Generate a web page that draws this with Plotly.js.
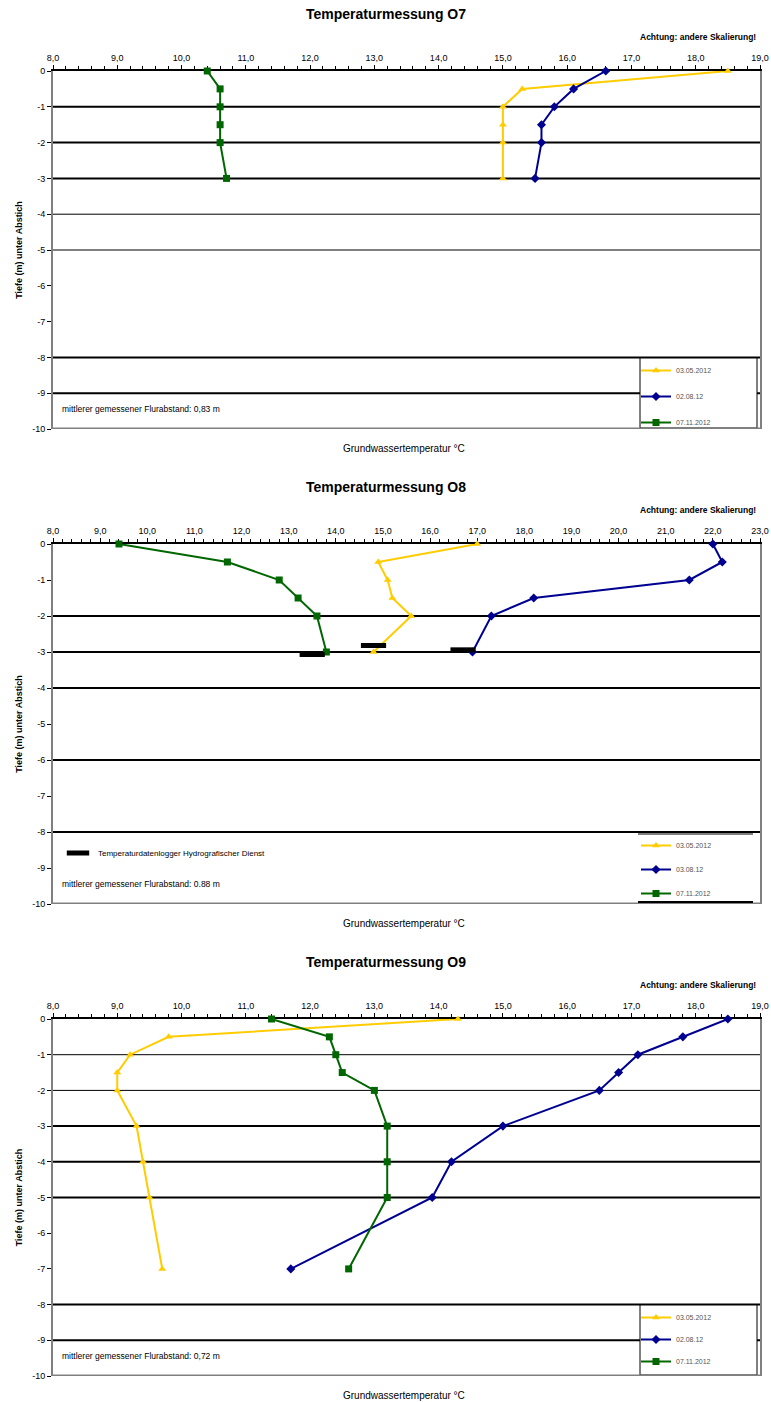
<!DOCTYPE html>
<html><head><meta charset="utf-8">
<script src="https://cdn.plot.ly/plotly-3.0.1.min.js"></script>
<style>html,body{margin:0;padding:0;background:#fff}#chart{width:771px;height:1402px}</style>
</head><body><div id="chart"></div>
<script>
// ---------- DATA ----------
const seriesNames = ["03.05.2012", "02.08.12", "07.11.2012"];
const seriesNamesO8 = ["03.05.2012", "03.08.12", "07.11.2012"];
const loggerName = "Temperaturdatenlogger Hydrografischer Dienst";

const depthO7 = [0, -0.5, -1, -1.5, -2, -3];
const o7_0305 = [18.5, 15.3, 15.0, 15.0, 15.0, 15.0];
const o7_0208 = [16.6, 16.1, 15.8, 15.6, 15.6, 15.5];
const o7_0711 = [10.4, 10.6, 10.6, 10.6, 10.6, 10.7];

const depthO8 = [0, -0.5, -1, -1.5, -2, -3];
const o8_0305 = [17.0, 14.9, 15.1, 15.2, 15.6, 14.8];
const o8_0308 = [22.0, 22.2, 21.5, 18.2, 17.3, 16.9];
const o8_0711 = [9.4, 11.7, 12.8, 13.2, 13.6, 13.8];
const o8_loggerT = [13.5, 14.8, 16.7];
const o8_loggerD = [-3.07, -2.82, -2.94];

const depthO9 = [0, -0.5, -1, -1.5, -2, -3, -4, -5, -7];
const o9_0305 = [14.3, 9.8, 9.2, 9.0, 9.0, 9.3, 9.4, 9.5, 9.7];
const o9_0208 = [18.5, 17.8, 17.1, 16.8, 16.5, 15.0, 14.2, 13.9, 11.7];
const o9_0711 = [11.4, 12.3, 12.4, 12.5, 13.0, 13.2, 13.2, 13.2, 12.6];

const titles = ["Temperaturmessung O7", "Temperaturmessung O8", "Temperaturmessung O9"];
const flurText = ["mittlerer gemessener Flurabstand: 0,83 m", "mittlerer gemessener Flurabstand: 0.88 m", "mittlerer gemessener Flurabstand: 0,72 m"];
const noteText = "Achtung: andere Skalierung!";
const xTitle = "Grundwassertemperatur °C";
const yTitle = "Tiefe (m) unter Abstich";
const xRanges = [[8, 19], [8, 23], [8, 19]];
const yTickVals = [0, -1, -2, -3, -4, -5, -6, -7, -8, -9, -10];
const yTickText = ["0", "-1", "-2", "-3", "-4", "-5", "-6", "-7", "-8", "-9", "-10"];
// horizontal depth lines drawn in the original (thick / thin)
const gridThick = [[-1, -2, -3, -8, -9], [-2, -3, -4, -6, -8], [-3, -4, -5, -8, -9]];
const gridThin = [[-4, -5], [], [-1, -2]];

// ---------- LAYOUT ----------
const W = 771, H = 1402;
const FONT = "Liberation Sans, Arial, sans-serif";
const px = v => v / W;
const py = v => 1 - v / H;
const panels = [{top: 71, bot: 429, gap: 7, sides: true}, {top: 544, bot: 904, gap: 5, sides: false}, {top: 1019, bot: 1376, gap: 3, sides: true}];
const xL = 53, xR = 760;
const COL = {y: "#FFCC00", b: "#000090", g: "#006600"};

const traces = [];
const layout = {
  width: W, height: H, margin: {l: 0, r: 0, t: 0, b: 0},
  paper_bgcolor: "#fff", plot_bgcolor: "#fff",
  separators: ", ", font: {family: FONT, color: "#000"},
  showlegend: true, annotations: [], shapes: []
};

function addSeries(i, x, y, name, color, symbol, legendId) {
  const sfx = i === 0 ? "" : String(i + 1);
  traces.push({
    type: "scatter", mode: "lines+markers", x: x, y: y, name: name, cliponaxis: false,
    xaxis: "x" + sfx, yaxis: "y" + sfx, legend: legendId, legendgroup: legendId + name,
    line: {color: color, width: 2},
    marker: {color: color, symbol: symbol, size: 7, line: {width: 0}}
  });
}

const sets = [
  {d: depthO7, s: [o7_0305, o7_0208, o7_0711], n: seriesNames},
  {d: depthO8, s: [o8_0305, o8_0308, o8_0711], n: seriesNamesO8},
  {d: depthO9, s: [o9_0305, o9_0208, o9_0711], n: seriesNames}
];

panels.forEach((p, i) => {
  const sfx = i === 0 ? "" : String(i + 1);
  const legendId = i === 0 ? "legend" : "legend" + (i + 1);
  const set = sets[i];
  addSeries(i, set.s[0], set.d, set.n[0], COL.y, "triangle-up", legendId);
  addSeries(i, set.s[1], set.d, set.n[1], COL.b, "diamond", legendId);
  addSeries(i, set.s[2], set.d, set.n[2], COL.g, "square", legendId);

  layout["xaxis" + sfx] = {
    domain: [px(xL), px(xR)], anchor: "y" + sfx, side: "top", range: xRanges[i],
    dtick: 1, tickformat: ".1f", showgrid: false, zeroline: false, layer: "below traces",
    showline: true, linecolor: "#000", linewidth: 2,
    ticks: "outside", ticklen: 4, tickcolor: "#000", tickwidth: 1,
    minor: {dtick: 0.2, ticks: "outside", ticklen: 3, tickcolor: "#000", showgrid: false},
    tickfont: {size: 9, color: "#000", family: FONT}, automargin: false, fixedrange: true
  };
  layout["yaxis" + sfx] = {
    domain: [py(p.bot), py(p.top)], anchor: "x" + sfx, range: [-10, 0],
    tickvals: yTickVals, ticktext: yTickText, showgrid: false, zeroline: false, layer: "below traces",
    showline: true, linecolor: "#808080", linewidth: 2, mirror: true,
    ticks: "outside", ticklen: 4, tickcolor: "#000",
    tickfont: {size: 9, color: "#000", family: FONT},
    title: {text: "<b>" + yTitle + "</b>", font: {size: 9, color: "#000", family: FONT}, standoff: 8},
    automargin: false, fixedrange: true
  };
  // bottom gray frame
  layout.shapes.push({type: "line", xref: "x" + sfx + " domain", yref: "y" + sfx, x0: 0, x1: 1, y0: -10, y1: -10,
    line: {color: "#808080", width: 3}});
  gridThick[i].forEach(v => layout.shapes.push({type: "line", xref: "x" + sfx + " domain", yref: "y" + sfx,
    x0: 0, x1: 1, y0: v, y1: v, line: {color: "#000", width: 2}, layer: "below"}));
  gridThin[i].forEach(v => layout.shapes.push({type: "line", xref: "x" + sfx + " domain", yref: "y" + sfx,
    x0: 0, x1: 1, y0: v, y1: v, line: {color: "#000", width: 1}, layer: "below"}));

  // legend box
  if (p.sides) {
    layout.shapes.push({type: "rect", xref: "paper", yref: "paper", x0: px(640), x1: px(757),
      y0: py(p.bot - 1), y1: py(p.bot - 71), line: {color: "#000", width: 1}, fillcolor: "#fff", layer: "below"});
  } else {
    layout.shapes.push({type: "line", xref: "paper", yref: "paper", x0: px(638), x1: px(753),
      y0: py(p.bot - 70), y1: py(p.bot - 70), line: {color: "#000", width: 1}});
    layout.shapes.push({type: "line", xref: "paper", yref: "paper", x0: px(638), x1: px(753),
      y0: py(p.bot - 2), y1: py(p.bot - 2), line: {color: "#000", width: 2}});
  }
  layout[legendId] = {
    x: px(636), y: py(p.bot - 73), xanchor: "left", yanchor: "top",
    bgcolor: "rgba(0,0,0,0)", borderwidth: 0, itemwidth: 30,
    traceorder: "grouped", tracegroupgap: p.gap,
    font: {size: 7, color: "#555", family: FONT}, itemclick: false
  };

  // texts
  layout.annotations.push({xref: "paper", yref: "paper", x: 0.5, y: py(p.top - 57), text: "<b>" + titles[i] + "</b>",
    showarrow: false, font: {size: 14, family: FONT, color: "#000"}, xanchor: "center", yanchor: "middle"});
  layout.annotations.push({xref: "paper", yref: "paper", x: px(758), y: py(p.top - 34), text: "<b>" + noteText + "</b>",
    showarrow: false, font: {size: 8.5, family: FONT, color: "#000"}, xanchor: "right", yanchor: "middle"});
  layout.annotations.push({xref: "paper", yref: "paper", x: px(404), y: py(p.bot + 19), text: xTitle,
    showarrow: false, font: {size: 10, family: FONT, color: "#000"}, xanchor: "center", yanchor: "middle"});
  layout.annotations.push({xref: "paper", yref: "paper", x: px(60), y: py(p.bot - 20), text: flurText[i],
    showarrow: false, font: {size: 8.5, family: FONT, color: "#000"}, xanchor: "left", yanchor: "middle"});
});

// logger points in O8
traces.push({
  type: "scatter", mode: "markers", x: o8_loggerT, y: o8_loggerD, name: loggerName,
  xaxis: "x2", yaxis: "y2", legend: "legend4", cliponaxis: false,
  marker: {symbol: "line-ew-open", size: 18, color: "#000", line: {color: "#000", width: 5}}
});
layout.legend4 = {
  x: px(58), y: py(853), xanchor: "left", yanchor: "middle",
  bgcolor: "rgba(0,0,0,0)", borderwidth: 0, itemwidth: 30,
  font: {size: 8, color: "#000", family: FONT}, itemclick: false
};

Plotly.newPlot("chart", traces, layout, {staticPlot: true, displayModeBar: false});
</script></body></html>
